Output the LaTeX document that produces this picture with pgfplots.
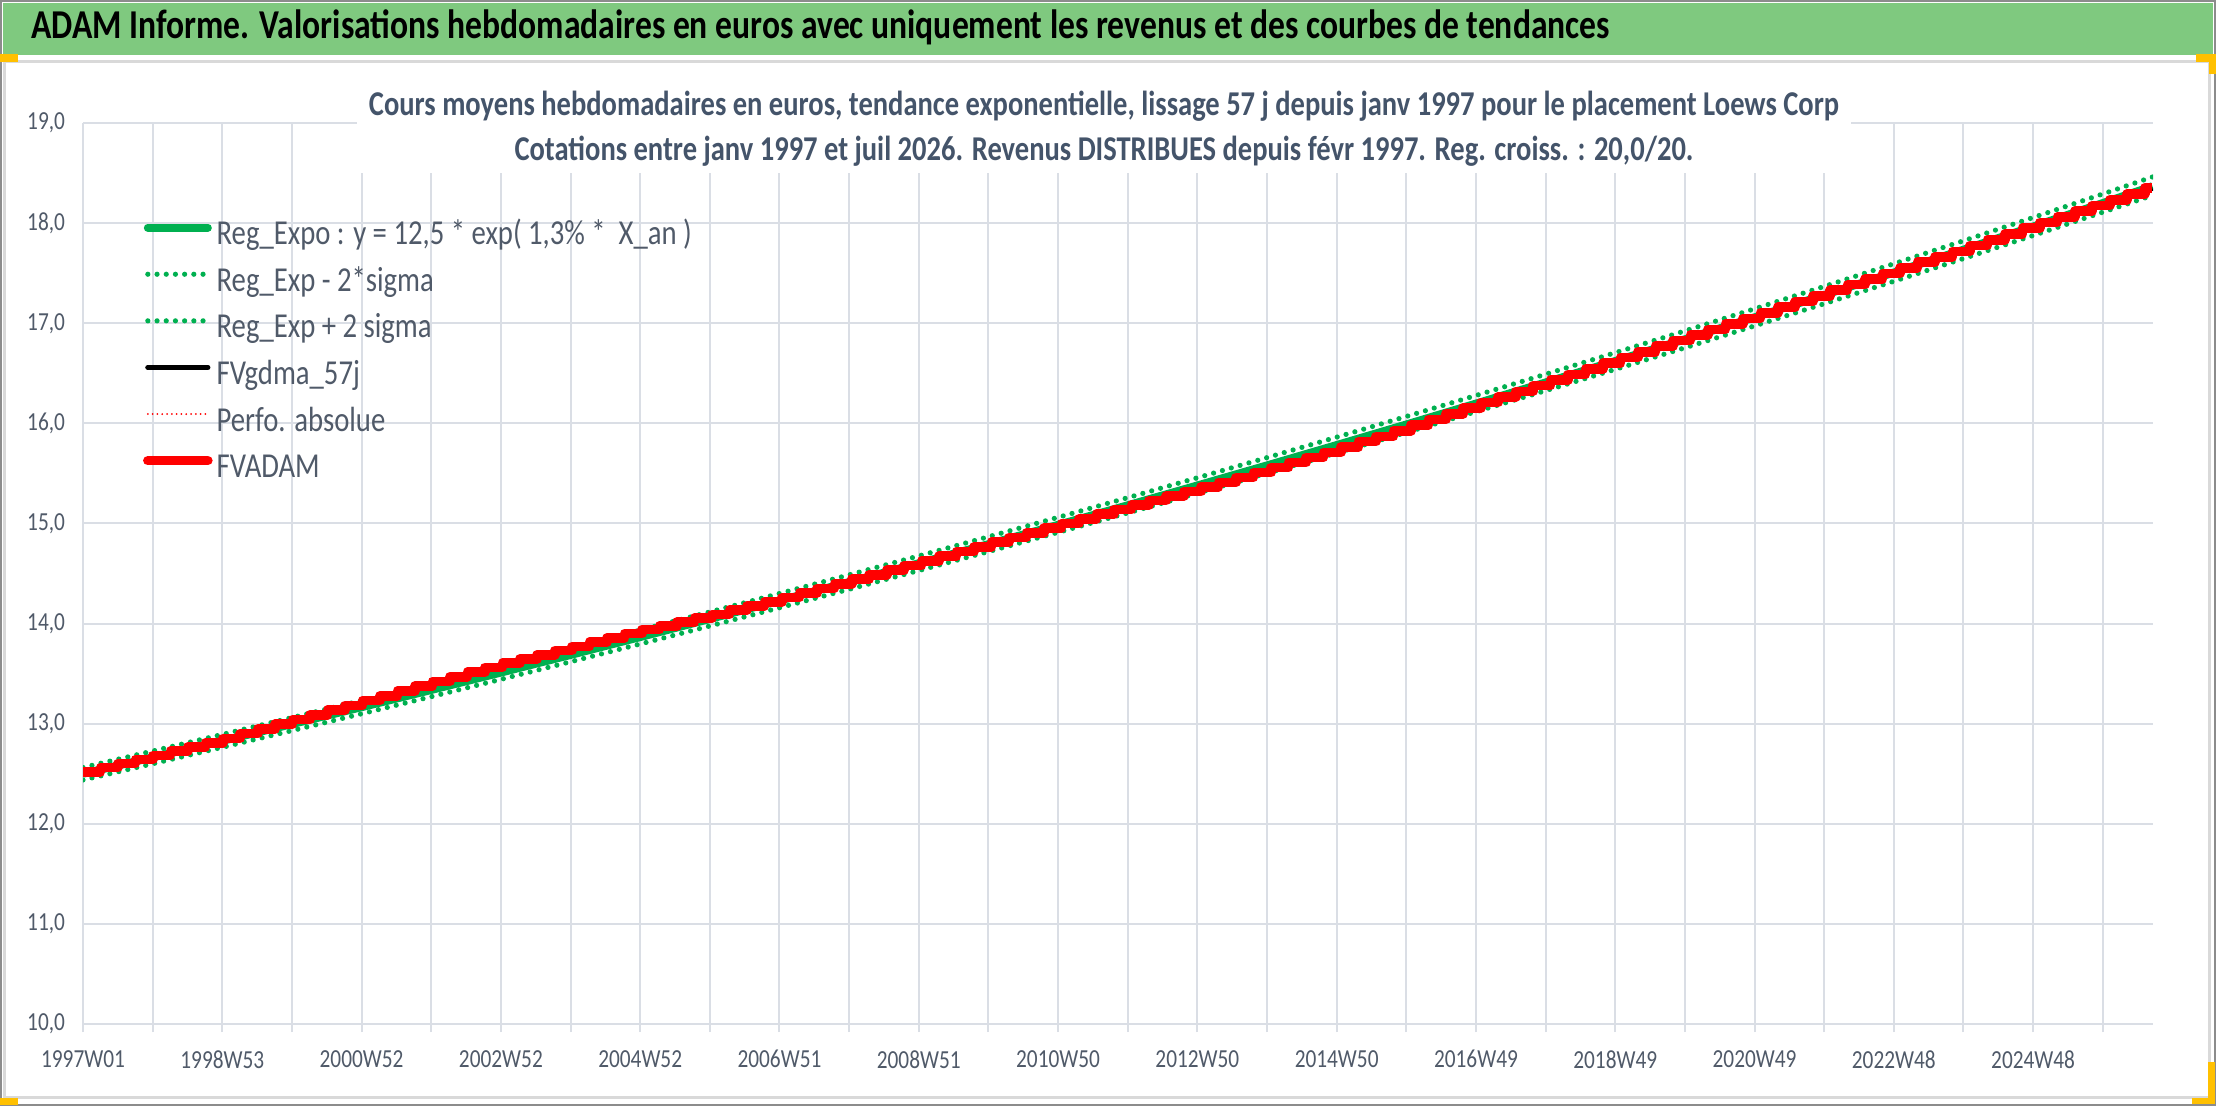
\documentclass[border=0pt]{standalone}
\usepackage{fontspec}
\setmainfont{Carlito}[FakeStretch=0.82]
\usepackage{pgfplots}
\usepackage{pgfplotstable}
\pgfplotsset{compat=1.18}
\definecolor{barg}{RGB}{127,201,127}
\definecolor{titc}{RGB}{68,84,106}
\definecolor{tickc}{RGB}{80,90,105}
\definecolor{gridc}{RGB}{218,222,229}
\definecolor{regc}{RGB}{0,176,80}
\definecolor{handc}{RGB}{255,192,0}
\definecolor{framec}{RGB}{140,140,140}
\definecolor{borderc}{RGB}{217,217,217}

% yearly regression table: k (years), R = regression, lo/hi = +-2 sigma, B = smoothed 57j
\pgfplotstableread{
k      R        lo       hi       B
0      12.5000  12.4375  12.5625  12.500
1      12.6636  12.6003  12.7269  12.664
2      12.8293  12.7652  12.8934  12.829
3      12.9971  12.9321  13.0621  13.017
4      13.1672  13.1014  13.2330  13.207
5      13.3395  13.2728  13.4062  13.400
6      13.5140  13.4464  13.5816  13.584
7      13.6909  13.6225  13.7594  13.751
8      13.8700  13.8007  13.9394  13.920
9      14.0515  13.9813  14.1218  14.072
10     14.2354  14.1642  14.3066  14.235
11     14.4216  14.3495  14.4937  14.422
12     14.6103  14.5372  14.6834  14.600
13     14.8015  14.7275  14.8755  14.792
14     14.9952  14.9202  15.0702  14.975
15     15.1914  15.1154  15.2674  15.161
16     15.3902  15.3133  15.4672  15.340
17     15.5915  15.5135  15.6695  15.532
18     15.7956  15.7166  15.8746  15.736
19     16.0022  15.9222  16.0822  15.952
20     16.2116  16.1305  16.2927  16.182
21     16.4238  16.3417  16.5059  16.404
22     16.6387  16.5555  16.7219  16.629
23     16.8564  16.7721  16.9407  16.856
24     17.0769  16.9915  17.1623  17.077
25     17.3004  17.2139  17.3869  17.300
26     17.5268  17.4392  17.6144  17.527
27     17.7561  17.6673  17.8449  17.746
28     17.9884  17.8985  18.0783  17.978
29     18.2238  18.1327  18.3149  18.204
29.61  18.3690  18.2772  18.4608  18.349
}\regtab

% quarterly valuation (q = quarter index)
\pgfplotstableread{
q v
0 12.520
1 12.561
2 12.602
3 12.643
4 12.684
5 12.726
6 12.767
7 12.809
8 12.853
9 12.900
10 12.947
11 12.994
12 13.041
13 13.088
14 13.136
15 13.183
16 13.231
17 13.279
18 13.327
19 13.375
20 13.422
21 13.469
22 13.514
23 13.561
24 13.605
25 13.646
26 13.688
27 13.730
28 13.772
29 13.814
30 13.857
31 13.899
32 13.939
33 13.977
34 14.014
35 14.053
36 14.092
37 14.133
38 14.174
39 14.215
40 14.259
41 14.305
42 14.352
43 14.398
44 14.444
45 14.488
46 14.533
47 14.578
48 14.624
49 14.672
50 14.720
51 14.767
52 14.815
53 14.860
54 14.906
55 14.952
56 14.999
57 15.044
58 15.092
59 15.138
60 15.184
61 15.228
62 15.273
63 15.318
64 15.364
65 15.411
66 15.460
67 15.507
68 15.557
69 15.608
70 15.659
71 15.710
72 15.762
73 15.817
74 15.870
75 15.925
76 15.981
77 16.038
78 16.095
79 16.153
80 16.209
81 16.265
82 16.320
83 16.376
84 16.432
85 16.488
86 16.544
87 16.601
88 16.657
89 16.714
90 16.770
91 16.828
92 16.884
93 16.939
94 16.994
95 17.049
96 17.105
97 17.160
98 17.216
99 17.272
100 17.329
101 17.385
102 17.442
103 17.498
104 17.554
105 17.609
106 17.664
107 17.718
108 17.775
109 17.833
110 17.891
111 17.949
112 18.007
113 18.062
114 18.119
115 18.175
116 18.233
117 18.293
118 18.353
118.44 18.353
}\advtab

\begin{document}
\begin{tikzpicture}
\begin{scope}[x=0.5pt,y=-0.5pt]
  \useasboundingbox (0,0) rectangle (2216,1106);
  \fill[white] (0,0) rectangle (2216,1106);
  \fill[barg] (3,3) rectangle (2213,55);
  \draw[borderc, line width=1.5pt] (4,62) rectangle (2209,1097);
  \draw[framec, line width=1.2pt] (0.6,0.6) rectangle (2215.4,1105.4);
  \fill[handc] (0,54) rectangle (18,62);
  \fill[handc] (2196,54) rectangle (2216,62);
  \fill[handc] (2209,54) rectangle (2216,74);
  \fill[handc] (0,1098) rectangle (18,1105);
  \fill[handc] (2192,1098) rectangle (2215,1104);
  \fill[handc] (2208,1062) rectangle (2215,1104);
  \node[anchor=base west, inner sep=0pt, font=\fontsize{20.5}{24}\selectfont\bfseries, text=black] at (31,39)
    {ADAM Informe. Valorisations hebdomadaires en euros avec uniquement les revenus et des courbes de tendances};
  \coordinate (O) at (83,1024);
\end{scope}
\begin{axis}[
  at={(O)}, anchor=south west,
  scale only axis, width=1035pt, height=450.5pt,
  xmin=0, xmax=1545.5, ymin=10, ymax=19,
  no markers,
  axis line style={draw=none},
  grid=major, grid style={draw=gridc, line width=1pt},
  xtick={0,52,...,1508},
  xticklabels={1997W01,,1998W53,,2000W52,,2002W52,,2004W52,,2006W51,,2008W51,,2010W50,,2012W50,,2014W50,,2016W49,,2018W49,,2020W49,,2022W48,,2024W48,},
  ytick={10,11,...,19},
  tick align=outside,
  major tick length=4pt,
  xtick pos=bottom,
  xtick style={draw=gridc, line width=1pt},
  ytick style={draw=none},
  tick label style={font=\fontsize{13}{15}\selectfont, text=tickc},
  xticklabel style={yshift=-5.6pt},
  yticklabel style={xshift=-1.5pt, /pgf/number format/fixed, /pgf/number format/fixed zerofill,
     /pgf/number format/precision=1, /pgf/number format/use comma,
     /pgf/number format/assume math mode=true},
  legend cell align=left,
  legend image code/.code={\draw[#1, line cap=round] (0pt,4.2pt) -- (30pt,4.2pt);},
  legend style={at={(0.029,0.9004)}, anchor=north west, draw=none, fill=none,
     inner sep=0pt, outer sep=0pt, column sep=2pt,
     font=\fontsize{17.5}{20}\selectfont, text=tickc,
     nodes={inner sep=0pt, text height=16pt, text depth=7.3pt}},
]
\addplot[regc, line width=4pt] table[x expr=\thisrow{k}*52.18, y=R] {\regtab};
\addlegendentry{Reg\_Expo : y = 12,5 * exp( 1,3\% *\ \ X\_an )}
\addplot[regc, line width=2.6pt, line cap=round, dash pattern=on 0pt off 4.6pt] table[x expr=\thisrow{k}*52.18, y=lo] {\regtab};
\addlegendentry{Reg\_Exp - 2*sigma}
\addplot[regc, line width=2.6pt, line cap=round, dash pattern=on 0pt off 4.6pt] table[x expr=\thisrow{k}*52.18, y=hi] {\regtab};
\addlegendentry{Reg\_Exp + 2 sigma}
\addplot[black, line width=2.6pt] table[x expr=\thisrow{k}*52.18, y=B] {\regtab};
\addlegendentry{FVgdma\_57j}
\addplot[red, line width=1pt, line cap=round, dash pattern=on 0pt off 2.4pt, const plot] table[x expr=\thisrow{q}*13.045, y=v] {\advtab};
\addlegendentry{Perfo. absolue}
\addplot[red, line width=4.8pt, line join=round, const plot] table[x expr=\thisrow{q}*13.045, y=v] {\advtab};
\addlegendentry{FVADAM}
\end{axis}
\begin{scope}[x=0.5pt,y=-0.5pt]
  \fill[white] (357,86) rectangle (1851,173);
  \node[anchor=base, inner sep=0pt, font=\fontsize{17.4}{20}\selectfont\bfseries, text=titc] at (1104,116)
    {Cours moyens hebdomadaires en euros, tendance exponentielle, lissage 57 j depuis janv 1997 pour le placement Loews Corp};
  \node[anchor=base, inner sep=0pt, font=\fontsize{17.4}{20}\selectfont\bfseries, text=titc] at (1104,161)
    {Cotations entre janv 1997 et juil 2026. Revenus DISTRIBUES depuis févr 1997. Reg. croiss. : 20,0/20.};
\end{scope}
\end{tikzpicture}
\end{document}
